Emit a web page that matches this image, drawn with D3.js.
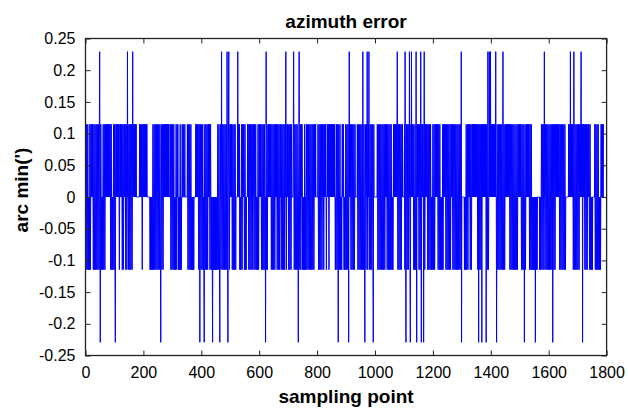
<!DOCTYPE html>
<html>
<head>
<meta charset="utf-8">
<script src="https://cdn.jsdelivr.net/npm/d3@7"></script>
<style>
  body { margin: 0; background: #fff; }
  text { font-family: Arial, "Liberation Sans", sans-serif; }
</style>
</head>
<body>
<svg id="chart" width="628" height="410"></svg>
<script>
// quantisation step of the error signal (arc min)
const quantum = 0.1146
const levelCodes = { D: -2, d: -1, '0': 0, u: 1, U: 2 }

// one row = 100 sampling points (spaces only for readability)
const levelRows = [
  'u0d0u0d0u0d 0d0d u0d0 u0u0u0u 0d0u0d0u0d0u0d0u0d0u0d uU0D0 u0d0 d0d0 u0d0u0d0 u0u0u0u0u0u0u0u0u0 d0u0d 0d0d 0u0d',
  'u0d D0 u0 u0u0u0u0u 0d0u 0u0u0u0 d0u0d 0u0u0u0 d0u0d0 U0 u0d0u0d0u0d0u0d0 U0 u0u0u0u0u0u0 0000000000 u0u0u0u0 0d0u0',
  'u0u0u0u0u0u0u0 000000000 d0d0d0d0d 0u0d0u0d0u0d0u0d0u0d0u0d0u0d D0 u0d0u0d 0u0u0u0u0u0u0u0u0u0u 0000 u0d0u 0d',
  '0 u0d0u0d0 d0d 0u0d 0u0u 0d0d0d0u0d0d 00u000u0000u00 000000 u0d0u0d0u0d0u 0d0d0d0d0d0 00000 u0u0u0u0u0 d0u0 D0 u0d',
  '0u0d0u0 d0d D0 u0d0u0d0u0d0u 0u0u0 d0u0d 0d0d D0 d0d0d0d0d0d0d0d0 u0d0u0d D0 u0d0 U0 d0u0d0u0d0u0d0 u0d U0dD0uU0 d0u',
  '0u0u0u0 d0u0d0u0d0u0d 000000 U0 u0u0 ud 0d0d 0u0d0 u0u0u0 d0u0d0 d0 000 u0u0 d0u0d0u0d0u0d 0u0u 0d0u0d0u0d0 d0d0 u0d0',
  'u 0u0u0u 0d0u0d0u0d0u0d0 D0U0 d0d0 u0u0u0u0u0u0 d0u0d0u0d0u0 d0u 0u0u 0d0u0d0u0d0 u0u 0d0 u0d0u0d0u0d0u0 U0 d0u0 u0',
  'u 0d0u0d0u0d0u0 0000 uU0 d0u0d0u0d0u0d0 D0uU0 d0u0d 0u0u 0d0d0d0d u0d 0d0 u0d0u0d0u0d0u0d0u0d0u0d0u0d 0u0u0u 0000',
  '000 u0d0u0d0u0d0u0d 0u0u0d0u0u0u 00d00 u0u0u0d0u0u0 u0u0u0u0u0u0u0u 0d0d 0u0d0u0 D0 u0d0u0 d0d0d0 u0u0u0 d0d0d 0u',
  '0d0u0d0u0 D0U0 u0u 0d0u0d0u0d0u0d0u0 000000 u0d0u0d0u0d0u0d0u0d U0 d0u0d D0 u0d0u0 U0 d0u0 U0 d0u0d 0u0d0u0d D0 u000',
  '00000000 u0d0u0d0u0d0u0d0u0d0u0d0u0d0 u0u0u0 d0u0d0u0d0u0d0u0d 0d0d0 u0u0u0u0u0u0u U0 d0u0d0u0d0u0d0 u0u0 000',
  '00 ud U0dD0 u0d0u0d0u0 U0dD0u0U0 u0u0u0 d0d 0u0d0 U0D0 u0u0u0 d0u0d0 U0D0 u0u0u0 D0U0 d0u0 u0u0u0 d0u0d0u0d0u 0d0d0d0',
  'u0d0u0d0u0 u0u0u0u 0d0u0d0u0d0 d0d0d0 ud 0u0u0u0u 0d0 u0d0u0d0u0d0u0d0u 0u0u0 d0u0d0u0d0u0d0u0d0u0d0u0d0u0d UD',
  '000000000 d0d0d0 u0d0u0d0 u0u0u0 d0u0d0u0 u0u0u0u0u0u0u0u0u0 d0u D0 u0d0u0d0u D0 u0u0u0u0u0u0u D0 u0d0 U0 d0u U0 u0 U',
  '0 u0u0u0u0u0u0u0u0 U00D0 u0d0u0d0u0d0u0d0u0d0 U0 d0u0d0u0 u0u0u0u0u0u0u 0d0u0d0u0d0u0d0u0d0u0d 0d0 u0d 0u0u0u0',
  'u0u0u 0d0u0d0u0d0 D0 u0d 0u0u0u0u0u0u0 d0u0d0u0d0 d0d0d0d0d0 D0 d0d0d0 0000000 d0d0d 0u0d0u0d0u0 U0 d0u0d0u0d0u0d',
  '0u0d0u0d0u0d0u D0 u0d0u0d0u 0u0u0u0u0u0u0 d0u0d0u0d0u0d0u0d0u0d0 000000000 u0u0u0 U0 u0u0u0u 0d0 U0 d0u0d0u0d0u',
  '0d0u0d 0u0u0u U0 u0u D0 u0u0u 0d0u0d0u0d0 u0u0u0 d0u0d 0d0d0d 0000000 u0d0u0d0u0d0u0d0 d0d0d0 u0u0u0u0u'
]

const xTicks = [0, 200, 400, 600, 800, 1000, 1200, 1400, 1600, 1800]
const yTicks = [-0.25, -0.2, -0.15, -0.1, -0.05, 0, 0.05, 0.1, 0.15, 0.2, 0.25]

const titleText = 'azimuth error'
const xLabel = 'sampling point'
const yLabel = "arc min(')"

const W = 628
const H = 410
const margin = { top: 38.5, right: 21.4, bottom: 54.5, left: 85.5 }
const fontFamily = 'Arial, "Liberation Sans", sans-serif'

const samples = []
levelRows.forEach((row, r) => {
  row.replace(/ /g, '').split('').forEach((c, i) => {
    samples.push({ i: r * 100 + i, v: levelCodes[c] * quantum })
  })
})

const svg = d3.select('#chart')

const x = d3.scaleLinear().domain([0, 1800]).range([margin.left, W - margin.right])
const y = d3.scaleLinear().domain([-0.25, 0.25]).range([H - margin.bottom, margin.top])

const fmt = d => String(+d.toFixed(2))

// signal
const line = d3.line().x(d => x(d.i)).y(d => y(d.v))
svg.append('path')
  .datum(samples)
  .attr('d', line)
  .attr('fill', 'none')
  .attr('stroke', '#0000ff')
  .attr('stroke-width', 1)

// axes, ticks pointing inwards on all four sides
function styleAxis (g) {
  g.select('.domain').remove()
  g.attr('font-size', 16).attr('font-family', fontFamily).attr('color', '#222')
  g.selectAll('text').attr('fill', '#000')
}

svg.append('g')
  .attr('transform', `translate(${margin.left},0)`)
  .call(d3.axisLeft(y).tickValues(yTicks).tickSize(-5).tickSizeOuter(0).tickPadding(10).tickFormat(fmt))
  .call(styleAxis)

svg.append('g')
  .attr('transform', `translate(${W - margin.right},0)`)
  .call(d3.axisRight(y).tickValues(yTicks).tickSize(-5).tickSizeOuter(0).tickFormat(() => ''))
  .call(styleAxis)

svg.append('g')
  .attr('transform', `translate(0,${H - margin.bottom})`)
  .call(d3.axisBottom(x).tickValues(xTicks).tickSize(-5).tickSizeOuter(0).tickPadding(11).tickFormat(fmt))
  .call(styleAxis)

svg.append('g')
  .attr('transform', `translate(0,${margin.top})`)
  .call(d3.axisTop(x).tickValues(xTicks).tickSize(-5).tickSizeOuter(0).tickFormat(() => ''))
  .call(styleAxis)

// frame
svg.append('rect')
  .attr('x', margin.left)
  .attr('y', margin.top)
  .attr('width', W - margin.left - margin.right)
  .attr('height', H - margin.top - margin.bottom)
  .attr('fill', 'none')
  .attr('stroke', '#222')
  .attr('stroke-width', 1.3)

// labels
svg.append('text')
  .attr('x', (margin.left + W - margin.right) / 2)
  .attr('y', 28)
  .attr('text-anchor', 'middle')
  .attr('font-size', 19)
  .attr('font-weight', 'bold')
  .text(titleText)

svg.append('text')
  .attr('x', (margin.left + W - margin.right) / 2)
  .attr('y', 403)
  .attr('text-anchor', 'middle')
  .attr('font-size', 19)
  .attr('font-weight', 'bold')
  .text(xLabel)

svg.append('text')
  .attr('transform', 'translate(28,190) rotate(-90)')
  .attr('text-anchor', 'middle')
  .attr('font-size', 19)
  .attr('font-weight', 'bold')
  .text(yLabel)
</script>
</body>
</html>
